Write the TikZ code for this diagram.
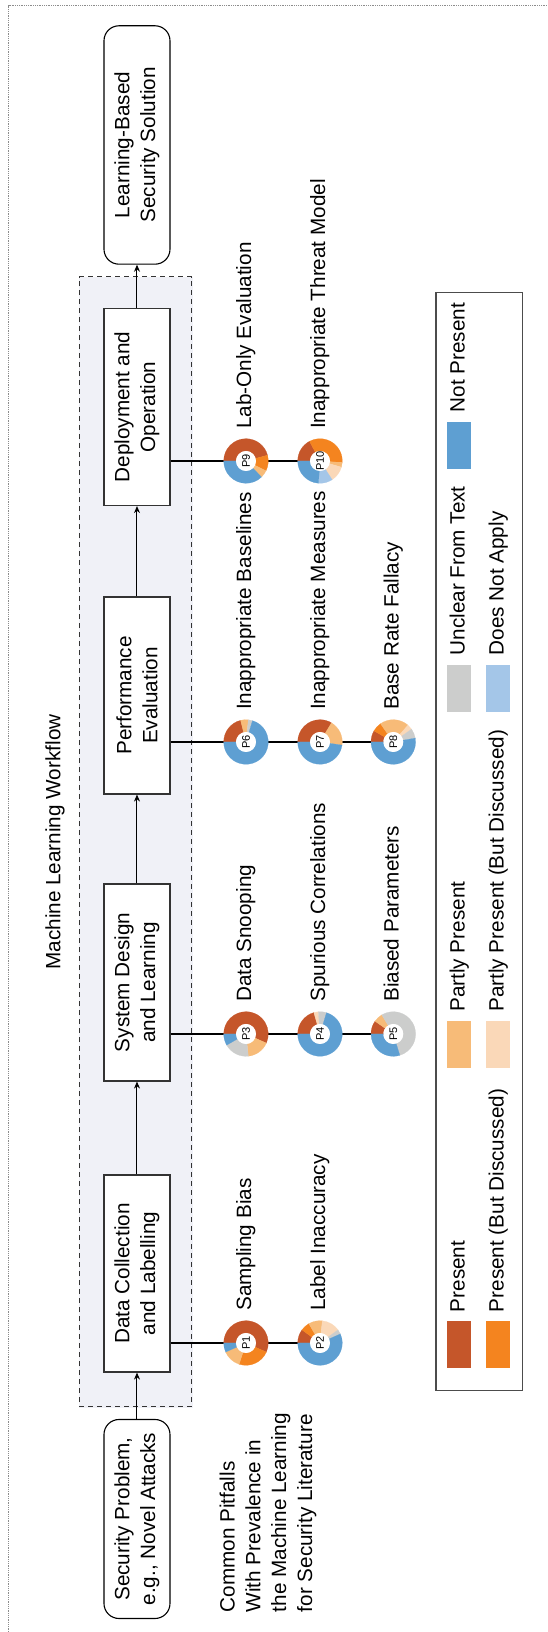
\documentclass[tikz,border=0pt]{standalone}
\usepackage{fontspec}
\setmainfont{Liberation Sans}
\usetikzlibrary{calc,arrows.meta}
\definecolor{cPres}{HTML}{C5562A}
\definecolor{cPresBD}{HTML}{F4841F}
\definecolor{cPart}{HTML}{F7BB78}
\definecolor{cPartBD}{HTML}{FAD8B8}
\definecolor{cUnc}{HTML}{CCCDCC}
\definecolor{cDNA}{HTML}{A4C6E8}
\definecolor{cNotP}{HTML}{5E9FD2}
\definecolor{wfFill}{HTML}{F0F1F7}
\newcommand{\mainfs}{\fontsize{20.7}{25.8}\selectfont}
\newcommand{\pfs}{\fontsize{11}{13}\selectfont}
\newcommand{\drawdonut}[2]{%
  \foreach \sa/\sb/\scol in {#2}{%
    \filldraw[fill=\scol, draw=\scol, line width=0.2pt] ($(#1)+({90-\sa}:22.3)$) arc[start angle={90-\sa}, end angle={90-\sb}, radius=22.3]
      -- ($(#1)+({90-\sb}:10)$) arc[start angle={90-\sb}, end angle={90-\sa}, radius=10] -- cycle;
  }%
  \fill[white] (#1) circle[radius=10];
}
\tikzset{
  procbox/.style={draw=black!80, line width=1.2pt, fill=white, minimum width=197pt, minimum height=66pt, align=center, inner sep=0pt, font=\mainfs},
  endbox/.style={draw=black, line width=1.1pt, fill=white, rounded corners=15pt, minimum height=66pt, align=center, inner sep=0pt, font=\mainfs},
  arr/.style={-{Stealth[length=7pt,width=6pt]}, line width=1pt, black},
  conn/.style={line width=2pt, black},
  plab/.style={font=\pfs, inner sep=0pt},
  lab/.style={font=\mainfs, inner sep=0pt, anchor=west, text height=15pt, text depth=4.5pt},
  swatch/.style={minimum width=47pt, minimum height=24.3pt, inner sep=0pt},
}
\begin{document}
\begin{tikzpicture}[x=1pt,y=1pt,rotate=90,transform shape]
\useasboundingbox (0,0) rectangle (1632,548);
% outer dotted frame
\draw[densely dotted, line width=0.8pt, black!45] (-3,-3) rectangle (1626.1,539.3);
% workflow region
\draw[wfFill, fill=wfFill] (225,356.1) rectangle (1355.2,468.3);
\draw[dash pattern=on 5pt off 4pt, line width=1pt, black!80] (225,356.1) rectangle (1355.2,468.3);
\node[font=\mainfs] (title) at (790,493) {Machine Learning Workflow};
% boxes
\node[endbox, minimum width=199pt] (sec) at (113,411) {Security Problem,\\e.g., Novel Attacks};
\node[procbox] (dc) at (358.5,411) {Data Collection\\and Labelling};
\node[procbox] (sd) at (649.5,411) {System Design\\and Learning};
\node[procbox] (pe) at (936.5,411) {Performance\\Evaluation};
\node[procbox] (dep) at (1225,411) {Deployment and\\Operation};
\node[endbox, minimum width=238.4pt] (lbs) at (1487,411) {Learning-Based\\Security Solution};
\draw[arr] (sec) -- (dc);
\draw[arr] (dc) -- (sd);
\draw[arr] (sd) -- (pe);
\draw[arr] (pe) -- (dep);
\draw[arr] (dep) -- (lbs);
% donut centres
\coordinate (d1) at (289,302);
\coordinate (d2) at (289,228);
\coordinate (d3) at (598,302);
\coordinate (d4) at (598,228);
\coordinate (d5) at (598,154.7);
\coordinate (d6) at (890,302);
\coordinate (d7) at (890,228);
\coordinate (d8) at (890,154.7);
\coordinate (d9) at (1171,302);
\coordinate (d10) at (1171,228);
\draw[conn] (dc.south -| d1) -- (d2);
\draw[conn] (sd.south -| d3) -- (d5);
\draw[conn] (pe.south -| d6) -- (d8);
\draw[conn] (dep.south -| d9) -- (d10);
% donuts
\drawdonut{d1}{0/204/cPres, 204/288/cPresBD, 288/336/cPart, 336/360/cNotP}
\drawdonut{d2}{0/36/cPres, 36/60/cPresBD, 60/96/cPart, 96/144/cPartBD, 144/156/cUnc, 156/360/cNotP}
\drawdonut{d3}{0/204/cPres, 204/264/cPart, 264/330/cUnc, 330/360/cNotP}
\drawdonut{d4}{0/74/cPres, 74/86/cPartBD, 86/107/cUnc, 107/360/cNotP}
\drawdonut{d5}{0/35/cPres, 35/59/cPart, 59/253/cUnc, 253/360/cNotP}
\drawdonut{d6}{0/76/cPres, 76/96/cPart, 96/107/cUnc, 107/360/cNotP}
\drawdonut{d7}{0/121/cPres, 121/188/cPart, 188/360/cNotP}
\drawdonut{d8}{0/30/cPres, 30/55/cPresBD, 55/131/cPart, 131/145/cPartBD, 145/170/cUnc, 170/360/cNotP}
\drawdonut{d9}{0/165/cPres, 165/206/cPresBD, 206/226/cPart, 226/360/cNotP}
\drawdonut{d10}{0/62/cPres, 62/184/cPresBD, 184/196/cPart, 196/237/cPartBD, 237/274/cDNA, 274/360/cNotP}
\node[plab] (p1) at (d1) {P1};
\node[plab] (p2) at (d2) {P2};
\node[plab] (p3) at (d3) {P3};
\node[plab] (p4) at (d4) {P4};
\node[plab] (p5) at (d5) {P5};
\node[plab] (p6) at (d6) {P6};
\node[plab] (p7) at (d7) {P7};
\node[plab] (p8) at (d8) {P8};
\node[plab] (p9) at (d9) {P9};
\node[plab] (p10) at (d10) {P10};
\node[lab] (l1) at ($(d1)+(32,0)$) {Sampling Bias};
\node[lab] (l2) at ($(d2)+(32,0)$) {Label Inaccuracy};
\node[lab] (l3) at ($(d3)+(32,0)$) {Data Snooping};
\node[lab] (l4) at ($(d4)+(32,0)$) {Spurious Correlations};
\node[lab] (l5) at ($(d5)+(32,0)$) {Biased Parameters};
\node[lab] (l6) at ($(d6)+(32,0)$) {Inappropriate Baselines};
\node[lab] (l7) at ($(d7)+(32,0)$) {Inappropriate Measures};
\node[lab] (l8) at ($(d8)+(32,0)$) {Base Rate Fallacy};
\node[lab] (l9) at ($(d9)+(32,0)$) {Lab-Only Evaluation};
\node[lab] (l10) at ($(d10)+(32,0)$) {Inappropriate Threat Model};
% caption at left
\node[font=\mainfs, align=left, anchor=west, inner sep=0pt] (cp) at (19.6,280) {Common Pitfalls\\With Prevalence in\\the Machine Learning\\for Security Literature};
% legend
\draw[black!70, line width=1.2pt] (241.2,25.3) rectangle (1339.3,112);
\node[swatch, fill=cPres, anchor=west] (s1) at (263.3,88.7) {};
\node[swatch, fill=cPresBD, anchor=west] (s2) at (263.3,49.7) {};
\node[swatch, fill=cPart, anchor=west] (s3) at (563.7,88.7) {};
\node[swatch, fill=cPartBD, anchor=west] (s4) at (563.7,49.7) {};
\node[swatch, fill=cUnc, anchor=west] (s5) at (920,88.7) {};
\node[swatch, fill=cDNA, anchor=west] (s6) at (920,49.7) {};
\node[swatch, fill=cNotP, anchor=west] (s7) at (1163,88.7) {};
\node[lab] (t1) at ($(s1.east)+(9,0)$) {Present};
\node[lab] (t2) at ($(s2.east)+(9,0)$) {Present (But Discussed)};
\node[lab] (t3) at ($(s3.east)+(9,0)$) {Partly Present};
\node[lab] (t4) at ($(s4.east)+(9,0)$) {Partly Present (But Discussed)};
\node[lab] (t5) at ($(s5.east)+(9,0)$) {Unclear From Text};
\node[lab] (t6) at ($(s6.east)+(9,0)$) {Does Not Apply};
\node[lab] (t7) at ($(s7.east)+(9,0)$) {Not Present};
\end{tikzpicture}
\end{document}
